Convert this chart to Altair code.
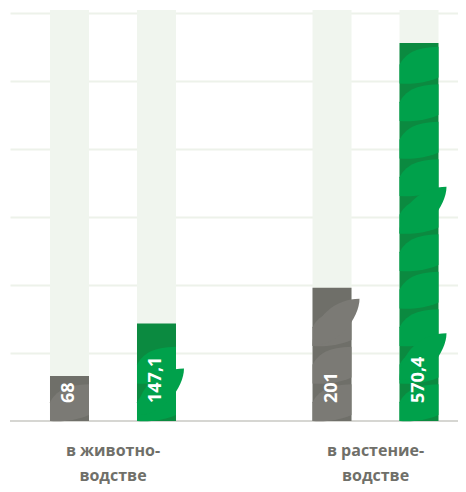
import altair as alt
import pandas as pd

groups = ["в животно-\nводстве", "в растение-\nводстве"]
series = ["a", "b"]
values = [[68, 147.1], [201, 570.4]]
labels = [["68", "147,1"], ["201", "570,4"]]
colors = ["#6f6f69", "#0b8a40"]
leaf_colors = ["#7b7a75", "#00a14b"]
# decorative leaves sticking out of the bars (centre values, data units)
leaf_out = [[[], [44]], [[149], [97, 318]]]
y_max = 620
grid_step = 102.67

PLOT_W, PLOT_H = 448, 411
LEAF_PX = 37.5
leaf_step = LEAF_PX * y_max / PLOT_H

rows, leaves, outs = [], [], []
for gi, g in enumerate(groups):
    for si, s in enumerate(series):
        v = values[gi][si]
        rows.append({"group": g, "series": s, "value": v,
                     "label": labels[gi][si], "top": y_max})
        k = 0
        while (k + 1) * leaf_step <= v + 1:
            leaves.append({"group": g, "series": s, "ly": (k + 0.5) * leaf_step,
                           "lc": leaf_colors[si]})
            k += 1
        for c in leaf_out[gi][si]:
            outs.append({"group": g, "series": s, "ly": c, "lc": leaf_colors[si]})
df = pd.DataFrame(rows)
df_leaf = pd.DataFrame(leaves)
df_out = pd.DataFrame(outs)

x = alt.X("group:N", sort=groups, title=None,
          scale=alt.Scale(paddingInner=0.5, paddingOuter=0.1033, align=0.689),
          axis=alt.Axis(labelExpr="split(datum.label, '\\n')", labelAngle=0,
                        labelFont="Open Sans", labelFontWeight="bold",
                        labelFontSize=16, labelColor="#6f6f69",
                        labelLineHeight=25, labelPadding=21,
                        domain=False, ticks=False, grid=False))
xo = alt.XOffset("series:N", sort=series,
                 scale=alt.Scale(paddingInner=0.5517, paddingOuter=0.0302, align=0.5))
yscale = alt.Scale(domain=[0, y_max], nice=False)
leaf_color = alt.Color("lc:N", scale=None, legend=None)

bg = alt.Chart(df).mark_bar(color="#f0f5ee").encode(
    x=x, xOffset=xo,
    y=alt.Y("top:Q", scale=yscale, title=None,
            axis=alt.Axis(values=[grid_step * k for k in range(1, 7)],
                          labels=False, ticks=False, domain=False,
                          grid=True, gridColor="#edf2ea", gridWidth=2)),
)

base_rule = alt.Chart(df).mark_rule(color="#d6d6d2", strokeWidth=2).encode(
    y=alt.datum(0, scale=yscale)
)

bars = alt.Chart(df).mark_bar().encode(
    x=x, xOffset=xo,
    y=alt.Y("value:Q", scale=yscale),
    color=alt.Color("series:N", scale=alt.Scale(domain=series, range=colors), legend=None),
)

LEAF_IN = ("M -1 0.96 L -1 0.0 C -0.7 -0.55 -0.2 -0.9 1 -0.92 "
           "L 1 0.65 C 0.3 0.95 -0.4 1.0 -1 0.96 Z")
LEAF_OUT = "M -1 1.2 C -1 -0.3 0.2 -1.2 1.41 -1.2 C 1.41 -0.2 0.3 1.2 -1 1.2 Z"

leaf_in = alt.Chart(df_leaf).mark_point(
    shape=LEAF_IN, size=1521, filled=True, opacity=1, strokeWidth=0
).encode(x=x, xOffset=xo, y=alt.Y("ly:Q", scale=yscale), fill=leaf_color)

leaf_o = alt.Chart(df_out).mark_point(
    shape=LEAF_OUT, size=1521, filled=True, opacity=1, strokeWidth=0
).encode(x=x, xOffset=xo, y=alt.Y("ly:Q", scale=yscale), fill=leaf_color)

text = alt.Chart(df).mark_text(
    angle=270, align="left", baseline="middle", dx=18,
    font="Open Sans", fontWeight="bold", fontSize=18, color="white"
).encode(
    x=x, xOffset=xo,
    y=alt.datum(0, scale=yscale),
    text="label:N",
)

chart = alt.layer(bg, base_rule, bars, leaf_in, leaf_o, text).properties(
    width=PLOT_W, height=PLOT_H,
    padding={"left": 2, "top": 2, "right": 0, "bottom": 63},
    autosize=alt.AutoSizeParams(type="none"),
).configure_view(stroke=None)

chart.save("out.html", embed_options={"renderer": "svg", "actions": False})
